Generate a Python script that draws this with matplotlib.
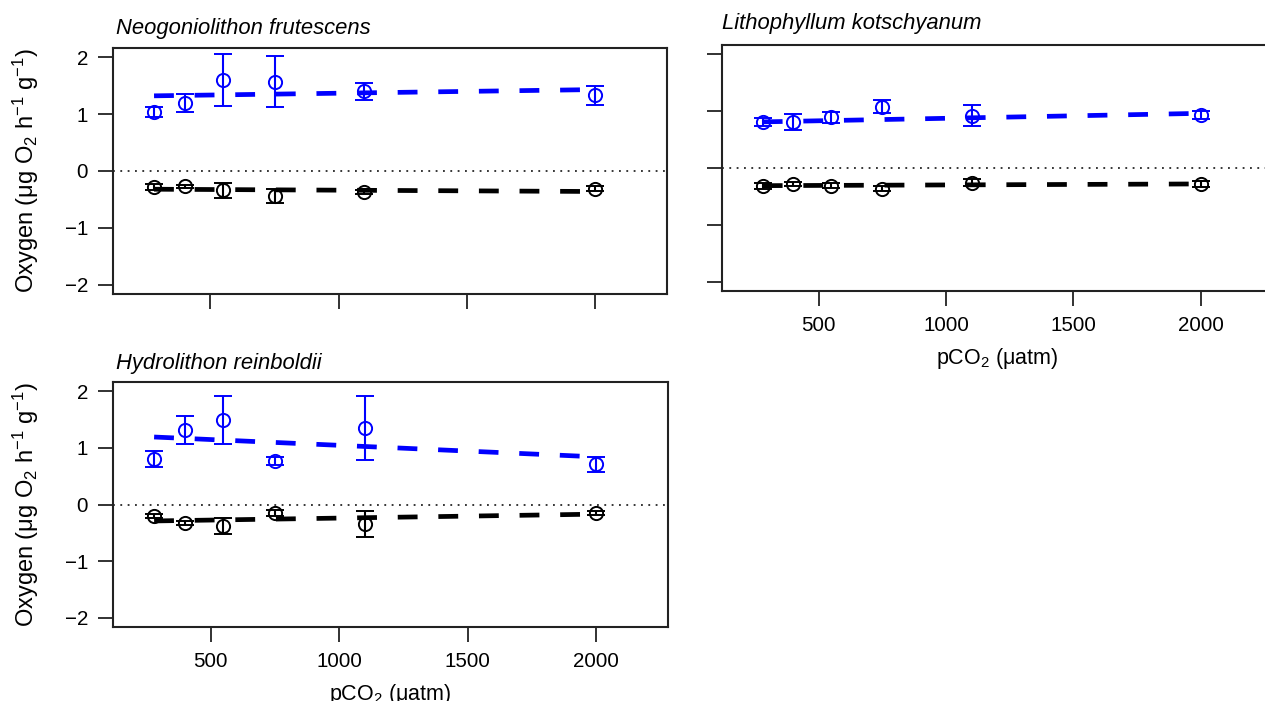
"""Oxygen production (light) and consumption (dark) of three coralline algae vs pCO2."""

import matplotlib
matplotlib.use('Agg')
from matplotlib import pyplot

# pCO2 treatments (uatm) and the span of the fitted regression lines
pco2 = [280, 400, 550, 750, 1100, 2000]
fit_x = [280, 2000]

species = ['Neogoniolithon frutescens', 'Lithophyllum kotschyanum',
           'Hydrolithon reinboldii']

# Neogoniolithon frutescens: net photosynthesis (blue) and respiration (black)
neo_photo = [1.03, 1.19, 1.60, 1.57, 1.40, 1.33]
neo_photo_err = [0.09, 0.16, 0.45, 0.45, 0.15, 0.17]
neo_resp = [-0.28, -0.27, -0.34, -0.44, -0.37, -0.31]
neo_resp_err = [0.06, 0.03, 0.13, 0.13, 0.03, 0.04]
neo_photo_fit = [1.32, 1.43]
neo_resp_fit = [-0.32, -0.36]

# Lithophyllum kotschyanum
lit_photo = [0.80, 0.81, 0.89, 1.08, 0.92, 0.93]
lit_photo_err = [0.07, 0.14, 0.10, 0.11, 0.19, 0.07]
lit_resp = [-0.32, -0.28, -0.31, -0.36, -0.26, -0.28]
lit_resp_err = [0.05, 0.04, 0.04, 0.05, 0.06, 0.05]
lit_photo_fit = [0.81, 0.96]
lit_resp_fit = [-0.31, -0.28]

# Hydrolithon reinboldii
hyd_photo = [0.80, 1.31, 1.49, 0.77, 1.35, 0.71]
hyd_photo_err = [0.14, 0.25, 0.42, 0.07, 0.57, 0.13]
hyd_resp = [-0.20, -0.33, -0.38, -0.15, -0.35, -0.15]
hyd_resp_err = [0.04, 0.04, 0.14, 0.05, 0.23, 0.04]
hyd_photo_fit = [1.19, 0.84]
hyd_resp_fit = [-0.29, -0.17]

W, H = 1265, 701
blue = '#0000ff'
ylab = 'Oxygen (μg O$_2$ h$^{-1}$ g$^{-1}$)'
xlab = 'pCO$_2$ (μatm)'

pyplot.rcParams['font.family'] = ['Liberation Sans', 'DejaVu Sans']
pyplot.rcParams['mathtext.fontset'] = 'custom'
pyplot.rcParams['mathtext.rm'] = 'Liberation Sans'
pyplot.rcParams['mathtext.it'] = 'Liberation Sans:italic'
pyplot.rcParams['mathtext.default'] = 'regular'


def box(left, top, right, bottom):
    return [left / W, 1 - bottom / H, (right - left) / W, (bottom - top) / H]


def draw_panel(ax, photo, photo_err, resp, resp_err, photo_fit, resp_fit):
    ax.axhline(0.0, color='black', lw=1.1, dashes=(1.2, 3.6), zorder=1)
    for y, e, fit, color in ((photo, photo_err, photo_fit, blue),
                             (resp, resp_err, resp_fit, 'black')):
        ax.plot(fit_x, fit, color=color, lw=3.4, dashes=(4.2, 4.4),
                dash_capstyle='butt', zorder=2)
        ax.errorbar(pco2, y, yerr=e, fmt='o', mfc='none', mec=color,
                    ecolor=color, ms=9.5, mew=1.4, elinewidth=1.5,
                    capsize=6.5, capthick=1.5, zorder=3)
    ax.set_xlim(120, 2280)
    ax.set_ylim(-2.16, 2.16)
    ax.set_xticks([500, 1000, 1500, 2000])
    ax.set_yticks([-2, -1, 0, 1, 2])
    ax.set_yticklabels(['\u22122', '\u22121', '0', '1', '2'])
    ax.tick_params(direction='out', length=11, width=1.3, pad=7,
                   labelsize=14.8, color='#222222')
    for spine in ax.spines.values():
        spine.set_linewidth(1.5)
        spine.set_color('#222222')


fig = pyplot.figure(figsize=(W / 100, H / 100), dpi=100)

ax1 = fig.add_axes(box(113, 48, 667, 294))
draw_panel(ax1, neo_photo, neo_photo_err, neo_resp, neo_resp_err,
           neo_photo_fit, neo_resp_fit)
ax1.tick_params(labelbottom=False)

ax2 = fig.add_axes(box(722, 45, 1272, 291))
draw_panel(ax2, lit_photo, lit_photo_err, lit_resp, lit_resp_err,
           lit_photo_fit, lit_resp_fit)
ax2.tick_params(labelleft=False)
ax2.set_xlabel(xlab, fontsize=15.5, labelpad=8)

ax3 = fig.add_axes(box(113, 382, 668, 627))
draw_panel(ax3, hyd_photo, hyd_photo_err, hyd_resp, hyd_resp_err,
           hyd_photo_fit, hyd_resp_fit)
ax3.set_xlabel(xlab, fontsize=15.5, labelpad=8)

# Species names above each panel.
for (x, y), name in zip([(116, 34), (722, 29), (116, 369)], species):
    fig.text(x / W, 1 - y / H, name, style='italic', fontsize=15.8,
             va='baseline', ha='left')

# Shared y label on the left panels.
for yc in (171, 505):
    fig.text(26 / W, 1 - yc / H, ylab, rotation=90, ha='center',
             va='center', fontsize=17)

fig.savefig('out.png', dpi=100)
